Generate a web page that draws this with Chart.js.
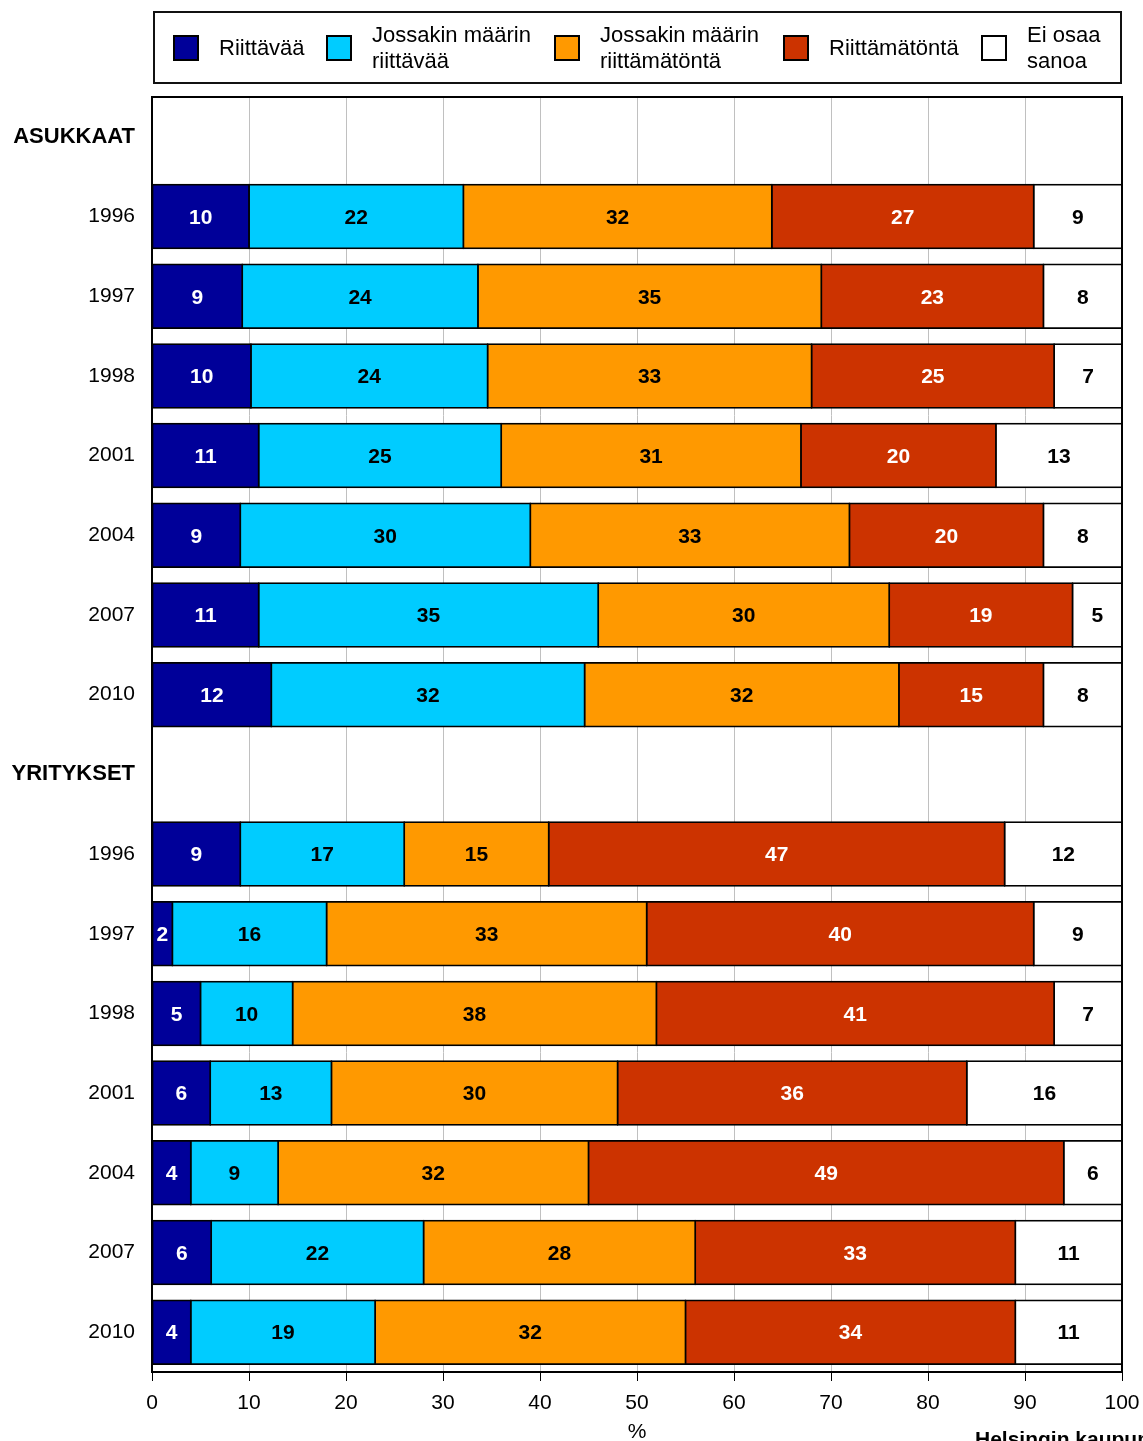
<!DOCTYPE html>
<html lang="fi">
<head>
<meta charset="utf-8">
<title>Riittävyys</title>
<script src="https://cdn.jsdelivr.net/npm/chart.js@4.4.1/dist/chart.umd.min.js"></script>
<style>
  body { margin: 0; background: #fff; font-family: "Liberation Sans", Arial, sans-serif; }
  #wrap { position: relative; width: 1143px; height: 1441px; overflow: hidden; }
  #leyenda-marco { position: absolute; left: 153px; top: 11px; width: 969px; height: 73px;
                   box-sizing: border-box; border: 2px solid #111; }
  .ley-caja { position: absolute; top: 35px; width: 26px; height: 26px; box-sizing: border-box; border: 2px solid #000; }
  .ley-texto { position: absolute; top: 22px; height: 52px; display: flex; align-items: center;
               font-size: 22px; line-height: 26px; color: #000; white-space: pre-line; }
  canvas { position: absolute; left: 0; top: 0; }
</style>
</head>
<body>
<div id="wrap">
  <canvas id="grafica" width="1143" height="1441"></canvas>
  <div id="leyenda-marco"></div>
  <div id="leyenda"></div>
</div>

<script>
// =============================================
// Datos (en %)
// =============================================
var categorias = ['ASUKKAAT', '1996', '1997', '1998', '2001', '2004', '2007', '2010',
                  'YRITYKSET', '1996', '1997', '1998', '2001', '2004', '2007', '2010'];
var encabezados = ['ASUKKAAT', 'YRITYKSET'];

var series = ['Riittävää', 'Jossakin määrin\nriittävää', 'Jossakin määrin\nriittämätöntä', 'Riittämätöntä', 'Ei osaa\nsanoa'];

var riittavaa             = [null, 10.0,  9.3, 10.2, 11.0,  9.1, 11.0, 12.3, null,  9.1,  2.1,  5.0,  6.0,  4.0,  6.1,  4.0];
var jossakinRiittavaa     = [null, 22.1, 24.3, 24.4, 25.0, 29.9, 35.0, 32.3, null, 16.9, 15.9,  9.5, 12.5,  9.0, 21.9, 19.0];
var jossakinRiittamatonta = [null, 31.8, 35.4, 33.4, 30.9, 32.9, 30.0, 32.4, null, 14.9, 33.0, 37.5, 29.5, 32.0, 28.0, 32.0];
var riittamatonta         = [null, 27.0, 22.9, 25.0, 20.1, 20.0, 18.9, 14.9, null, 47.0, 39.9, 41.0, 36.0, 49.0, 33.0, 34.0];
var eiOsaa                = [null,  9.1,  8.1,  7.0, 13.0,  8.1,  5.1,  8.1, null, 12.1,  9.1,  7.0, 16.0,  6.0, 11.0, 11.0];

var ticksX = [0, 10, 20, 30, 40, 50, 60, 70, 80, 90, 100];

// colores de relleno y de la cifra
var colores      = ['#000099', '#00ccff', '#ff9900', '#cc3300', '#ffffff'];
var coloresTexto = ['#ffffff', '#000000', '#000000', '#ffffff', '#000000'];

var FUENTE = '"Liberation Sans", Arial, sans-serif';

// ——————————————————————————————————————————
// Leyenda HTML (etiquetas en dos líneas)
// ——————————————————————————————————————————
var posCaja  = [173, 326, 554, 783, 981];
var posTexto = [219, 372, 600, 829, 1027];

function crearLeyenda() {
  var cont = document.getElementById('leyenda');
  var html = '';
  series.forEach(function(nombre, i) {
    html += '<div class="ley-caja" style="left:' + posCaja[i] + 'px;background:' + colores[i] + ';"></div>';
    html += '<div class="ley-texto" style="left:' + posTexto[i] + 'px;">' + nombre + '</div>';
  });
  cont.innerHTML = html;
}

// ——————————————————————————————————————————
// Plugins: cifras dentro de las barras + marco + fuente
// ——————————————————————————————————————————
var pluginCifras = {
  id: 'cifras',
  afterDatasetsDraw: function(chart) {
    var ctx = chart.ctx;
    ctx.save();
    ctx.font = 'bold 21px ' + FUENTE;
    ctx.textAlign = 'center';
    ctx.textBaseline = 'middle';
    chart.data.datasets.forEach(function(ds, i) {
      var meta = chart.getDatasetMeta(i);
      meta.data.forEach(function(barra, j) {
        var v = ds.data[j];
        if (v === null) return;
        ctx.fillStyle = coloresTexto[i];
        ctx.fillText(String(Math.round(v)), (barra.x + barra.base) / 2, barra.y + 1.5);
      });
    });
    ctx.restore();
  }
};

var pluginMarco = {
  id: 'marco',
  afterDraw: function(chart) {
    var a = chart.chartArea;
    var ctx = chart.ctx;
    ctx.save();
    ctx.strokeStyle = '#000';
    ctx.lineWidth = 2;
    ctx.strokeRect(a.left, a.top, a.right - a.left, a.bottom - a.top);
    ctx.font = 'bold 21px ' + FUENTE;
    ctx.fillStyle = '#000';
    ctx.textAlign = 'left';
    ctx.textBaseline = 'alphabetic';
    ctx.fillText('Helsingin kaupungin tietokeskus', 975, 1446);
    ctx.restore();
  }
};

// ——————————————————————————————————————————
// Gráfica de barras apiladas horizontales
// ——————————————————————————————————————————
function crearGrafica() {
  var valores = [riittavaa, jossakinRiittavaa, jossakinRiittamatonta, riittamatonta, eiOsaa];

  var datasets = valores.map(function(arr, i) {
    return {
      label: series[i].replace('\n', ' '),
      data: arr,
      backgroundColor: colores[i],
      borderColor: '#000',
      borderWidth: 1.7,
      borderSkipped: false,
      inflateAmount: 0.85,
      categoryPercentage: 0.8,
      barPercentage: 1.0
    };
  });

  new Chart(document.getElementById('grafica'), {
    type: 'bar',
    data: { labels: categorias, datasets: datasets },
    options: {
      indexAxis: 'y',
      responsive: false,
      animation: false,
      layout: { padding: { top: 97, right: 21, left: 0, bottom: 0 } },
      plugins: { legend: { display: false }, tooltip: { enabled: false } },
      scales: {
        x: {
          stacked: true,
          min: 0,
          max: 100,
          afterBuildTicks: function(s) {
            s.ticks = ticksX.map(function(v) { return { value: v }; });
          },
          afterFit: function(s) {
            s.height = 69;
            s.paddingLeft = 0;
            s.paddingRight = 0;
          },
          grid: { color: '#c0c0c0', lineWidth: 1, tickColor: '#000', tickLength: 9 },
          border: { color: '#000', width: 2 },
          ticks: { color: '#000', padding: 10, font: { family: FUENTE, size: 21 } },
          title: {
            display: true,
            text: '%',
            color: '#000',
            padding: 0,
            font: { family: FUENTE, size: 21, lineHeight: 0.8 }
          }
        },
        y: {
          stacked: true,
          afterFit: function(s) { s.width = 152; },
          grid: { display: false, drawTicks: false },
          border: { color: '#000', width: 2 },
          ticks: {
            color: '#000',
            padding: 17,
            font: function(c) {
              var lbl = c.tick ? c.tick.label : '';
              var esEnc = encabezados.indexOf(lbl) >= 0;
              return { family: FUENTE, size: esEnc ? 22 : 21, weight: esEnc ? 'bold' : 'normal' };
            }
          }
        }
      }
    },
    plugins: [pluginCifras, pluginMarco]
  });
}

crearLeyenda();
crearGrafica();
</script>
</body>
</html>
